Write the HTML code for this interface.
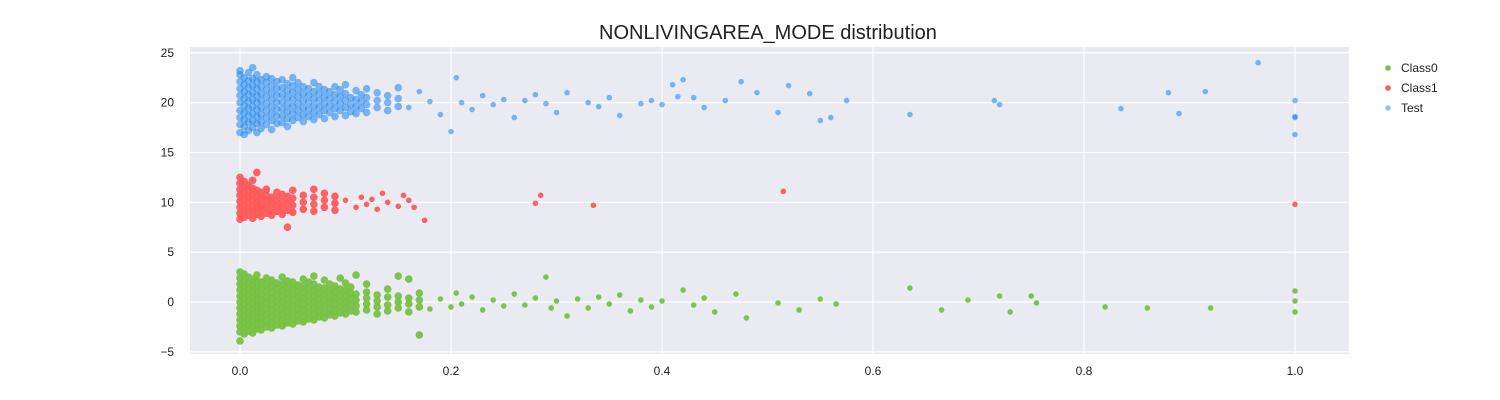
<!DOCTYPE html>
<html><head><meta charset="utf-8">
<style>
html,body{margin:0;padding:0;background:#fff;width:1500px;height:400px;overflow:hidden;font-family:"Liberation Sans",Arial,sans-serif;}
</style></head>
<body>
<svg id="chart" width="1500" height="400" xmlns="http://www.w3.org/2000/svg">
<text x="768" y="39" text-anchor="middle" font-size="20" fill="#222">NONLIVINGAREA_MODE distribution</text>
<rect x="190" y="47" width="1159" height="307" fill="#eaeaf2"/>
<g id="grid"></g>
<g id="points"></g>
<g id="ticks"></g>
<g>
<circle cx="1388" cy="68" r="2.8" fill="#77c142"/>
<text x="1401" y="72" font-size="12" fill="#222">Class0</text>
<circle cx="1388" cy="88" r="2.8" fill="#ff5a5a"/>
<text x="1401" y="92" font-size="12" fill="#222">Class1</text>
<circle cx="1388" cy="108" r="2.8" fill="#1a85f0" fill-opacity="0.5"/>
<text x="1401" y="112" font-size="12" fill="#222">Test</text>
</g>
</svg>
<script>
const xTicks=[0,0.2,0.4,0.6,0.8,1.0];
const xTickLabels=["0.0","0.2","0.4","0.6","0.8","1.0"];
const yTicks=[-5,0,5,10,15,20,25];
const yTickLabels=["−5","0","5","10","15","20","25"];
const testDense=[[0,[17,17.8,18.5,19.2,20,20.7,21.4,22.1,22.8,23.2]],[0.004,[16.8,17.6,18.3,19,19.7,20.4,21.1,21.8,22.5]],[0.008,[17.2,18,18.7,19.4,20.1,20.8,21.5,22.2,23]],[0.012,[17.5,18.2,18.9,19.6,20.3,21,21.7,22.4,23.5]],[0.016,[17,17.9,18.6,19.3,20,20.7,21.4,22.1,22.8]],[0.02,[17.4,18.1,18.8,19.5,20.2,20.9,21.6,22.3]],[0.025,[17.8,18.5,19.2,19.9,20.6,21.3,22,22.6]],[0.03,[17.3,18.2,18.9,19.6,20.3,21,21.7,22.4]],[0.035,[17.9,18.6,19.3,20,20.7,21.4,22.1]],[0.04,[18,18.7,19.4,20.1,20.8,21.5,22.3]],[0.045,[17.6,18.4,19.1,19.8,20.5,21.2,21.9]],[0.05,[18.2,18.9,19.6,20.3,21,21.7,22.5]],[0.055,[18.5,19.2,19.9,20.6,21.3,22]],[0.06,[18.1,18.8,19.5,20.2,20.9,21.6]],[0.065,[18.6,19.3,20,20.7,21.4]],[0.07,[18.3,19,19.7,20.4,21.1,22]],[0.075,[18.8,19.5,20.2,20.9,21.6]],[0.08,[18.4,19.2,19.9,20.6,21.3]],[0.085,[19,19.7,20.4,21.1]],[0.09,[18.6,19.4,20.1,20.8,21.6]],[0.095,[19.2,19.9,20.6,21.3]],[0.1,[18.7,19.5,20.2,20.9,21.8]],[0.105,[19.1,19.8,20.5]],[0.11,[18.9,19.6,20.3,21.2]],[0.115,[19.4,20.1,20.8]],[0.12,[19,19.8,20.5,21.4]],[0.13,[19.5,20.2,21]],[0.14,[19.2,20,20.7]],[0.15,[19.6,20.4,21.5]]];
const testSparse=[[0.16,19.5],[0.17,21.1],[0.18,20.1],[0.19,18.8],[0.2,17.1],[0.205,22.5],[0.21,20],[0.22,19.3],[0.23,20.7],[0.24,19.8],[0.25,20.3],[0.26,18.5],[0.27,20.2],[0.28,20.8],[0.29,19.9],[0.3,19],[0.31,21],[0.33,20],[0.34,19.6],[0.35,20.5],[0.36,18.7],[0.38,19.9],[0.39,20.2],[0.4,19.8],[0.41,21.8],[0.415,20.6],[0.42,22.3],[0.43,20.5],[0.44,19.5],[0.46,20.2],[0.475,22.1],[0.49,21],[0.51,19],[0.52,21.7],[0.54,20.9],[0.55,18.2],[0.56,18.5],[0.575,20.2],[0.635,18.8],[0.715,20.2],[0.72,19.8],[0.835,19.4],[0.88,21],[0.89,18.9],[0.915,21.1],[0.965,24],[1,20.2],[1,18.5],[1,16.8],[1,18.6]];
const class1Dense=[[0,[8.3,8.9,9.5,10.1,10.7,11.3,11.9,12.5]],[0.004,[8.5,9.1,9.7,10.3,10.9,11.5,12.1]],[0.008,[8.7,9.3,9.9,10.5,11.1,11.7]],[0.012,[8.4,9,9.6,10.2,10.8,11.4,12.2]],[0.016,[8.8,9.4,10,10.6,11.2,13]],[0.02,[8.6,9.2,9.8,10.4,11]],[0.025,[8.9,9.5,10.1,10.7,11.3]],[0.03,[8.7,9.3,9.9,10.5]],[0.035,[9.1,9.7,10.3,11]],[0.04,[8.8,9.5,10.1,10.8]],[0.045,[9.2,9.9,10.6,7.5]],[0.05,[9,9.7,10.4,11.2]],[0.06,[9.3,10,10.7]],[0.07,[9.1,9.8,10.5,11.3]],[0.08,[9.5,10.2,10.9]],[0.09,[9.2,9.9,10.6]]];
const class1Sparse=[[0.1,10.2],[0.11,9.5],[0.115,10.5],[0.12,9.8],[0.125,10.3],[0.13,9.3],[0.135,10.9],[0.14,10],[0.15,9.6],[0.155,10.7],[0.16,10.2],[0.165,9.5],[0.175,8.2],[0.28,9.9],[0.285,10.7],[0.335,9.7],[0.515,11.1],[1,9.8]];
const class0Dense=[[0,[-3.9,-3,-2.4,-1.8,-1.2,-0.6,0,0.6,1.2,1.8,2.4,3]],[0.004,[-3.2,-2.6,-2,-1.4,-0.8,-0.2,0.4,1,1.6,2.2,2.8]],[0.008,[-2.9,-2.3,-1.7,-1.1,-0.5,0.1,0.7,1.3,1.9,2.5]],[0.012,[-3.1,-2.5,-1.9,-1.3,-0.7,-0.1,0.5,1.1,1.7,2.3]],[0.016,[-2.7,-2.1,-1.5,-0.9,-0.3,0.3,0.9,1.5,2.1,2.7]],[0.02,[-2.8,-2.2,-1.6,-1,-0.4,0.2,0.8,1.4,2]],[0.025,[-2.5,-1.9,-1.3,-0.7,-0.1,0.5,1.1,1.7,2.4]],[0.03,[-2.6,-2,-1.4,-0.8,-0.2,0.4,1,1.6,2.2]],[0.035,[-2.3,-1.7,-1.1,-0.5,0.1,0.7,1.3,1.9]],[0.04,[-2.4,-1.8,-1.2,-0.6,0,0.6,1.2,1.8,2.5]],[0.045,[-2.1,-1.5,-0.9,-0.3,0.3,0.9,1.5,2.1]],[0.05,[-2.2,-1.6,-1,-0.4,0.2,0.8,1.4,2]],[0.055,[-1.9,-1.3,-0.7,-0.1,0.5,1.1,1.7]],[0.06,[-2,-1.4,-0.8,-0.2,0.4,1,1.6,2.3]],[0.065,[-1.7,-1.1,-0.5,0.1,0.7,1.3,2]],[0.07,[-1.8,-1.2,-0.6,0,0.6,1.2,1.8,2.6]],[0.075,[-1.5,-0.9,-0.3,0.3,0.9,1.5]],[0.08,[-1.6,-1,-0.4,0.2,0.8,1.4,2.2]],[0.085,[-1.3,-0.7,-0.1,0.5,1.1,1.8]],[0.09,[-1.4,-0.8,-0.2,0.4,1,1.6]],[0.095,[-1.1,-0.5,0.1,0.7,1.3,2.4]],[0.1,[-1.2,-0.6,0,0.6,1.2,1.9]],[0.105,[-0.9,-0.3,0.3,0.9,1.5]],[0.11,[-1,-0.4,0.2,0.8,2.7]],[0.12,[-0.8,-0.2,0.4,1,1.8]],[0.13,[-1.2,-0.5,0.1,0.7]],[0.14,[-0.9,-0.3,0.5,1.3]],[0.15,[-0.6,0,0.6,2.6]],[0.16,[-1,-0.2,0.4,2.3]],[0.17,[-3.3,-0.5,0.2,0.9]]];
const class0Sparse=[[0.18,-0.7],[0.19,0.3],[0.2,-0.5],[0.205,0.9],[0.21,-0.2],[0.22,0.5],[0.23,-0.8],[0.24,0.2],[0.25,-0.4],[0.26,0.8],[0.27,-0.3],[0.28,0.4],[0.29,2.5],[0.295,-0.6],[0.3,0.1],[0.31,-1.4],[0.32,0.3],[0.33,-0.6],[0.34,0.5],[0.35,-0.2],[0.36,0.7],[0.37,-0.9],[0.38,0.2],[0.39,-0.5],[0.4,0.1],[0.42,1.2],[0.43,-0.3],[0.44,0.4],[0.45,-1],[0.47,0.8],[0.48,-1.6],[0.51,-0.1],[0.53,-0.8],[0.55,0.3],[0.565,-0.2],[0.635,1.4],[0.665,-0.8],[0.69,0.2],[0.72,0.6],[0.73,-1],[0.75,0.6],[0.755,-0.1],[0.82,-0.5],[0.86,-0.6],[0.92,-0.6],[1,1.1],[1,0.1],[1,-1]];

const NS="http://www.w3.org/2000/svg";
function xScale(v){return 240+v*1055;}
function yScale(v){return 302-v*9.97;}
const grid=document.getElementById('grid'),ticks=document.getElementById('ticks'),pts=document.getElementById('points');
xTicks.forEach((t,i)=>{
  const l=document.createElementNS(NS,'line');
  
  
  l.setAttribute('x1',xScale(t));l.setAttribute('x2',xScale(t));l.setAttribute('y1',47);l.setAttribute('y2',354);
  l.setAttribute('stroke','#fff');l.setAttribute('stroke-width','1.2');grid.appendChild(l);
  const tx=document.createElementNS(NS,'text');
  
  
  tx.setAttribute('x',xScale(t));tx.setAttribute('y',375);tx.setAttribute('text-anchor','middle');
  tx.setAttribute('font-size','12');tx.setAttribute('fill','#222');tx.textContent=xTickLabels[i];ticks.appendChild(tx);
});
yTicks.forEach((t,i)=>{
  const l=document.createElementNS(NS,'line');
  
  
  l.setAttribute('x1',190);l.setAttribute('x2',1349);l.setAttribute('y1',yScale(t));l.setAttribute('y2',yScale(t));
  l.setAttribute('stroke','#fff');l.setAttribute('stroke-width','1.2');grid.appendChild(l);
  const tx=document.createElementNS(NS,'text');
  
  
  tx.setAttribute('x',174);tx.setAttribute('y',yScale(t)+4);tx.setAttribute('text-anchor','end');
  tx.setAttribute('font-size','12');tx.setAttribute('fill','#222');tx.textContent=yTickLabels[i];ticks.appendChild(tx);
});
function dot(x,y,color,op,name,r){
  const c=document.createElementNS(NS,'circle');
  
  
  c.setAttribute('cx',xScale(x));c.setAttribute('cy',yScale(y));c.setAttribute('r',r);
  c.setAttribute('fill',color);c.setAttribute('fill-opacity',op);pts.appendChild(c);
}
function drawSeries(dense,sparse,color,op,name){
  dense.forEach(col=>col[1].forEach(y=>dot(col[0],y,color,op,name,3.8)));
  sparse.forEach(p=>dot(p[0],p[1],color,op,name,2.8));
}
drawSeries(class0Dense,class0Sparse,'#77c142',0.95,'class0-point');
drawSeries(class1Dense,class1Sparse,'#ff5a5a',0.95,'class1-point');
drawSeries(testDense,testSparse,'#1a85f0',0.55,'test-point');
</script>
</body></html>
